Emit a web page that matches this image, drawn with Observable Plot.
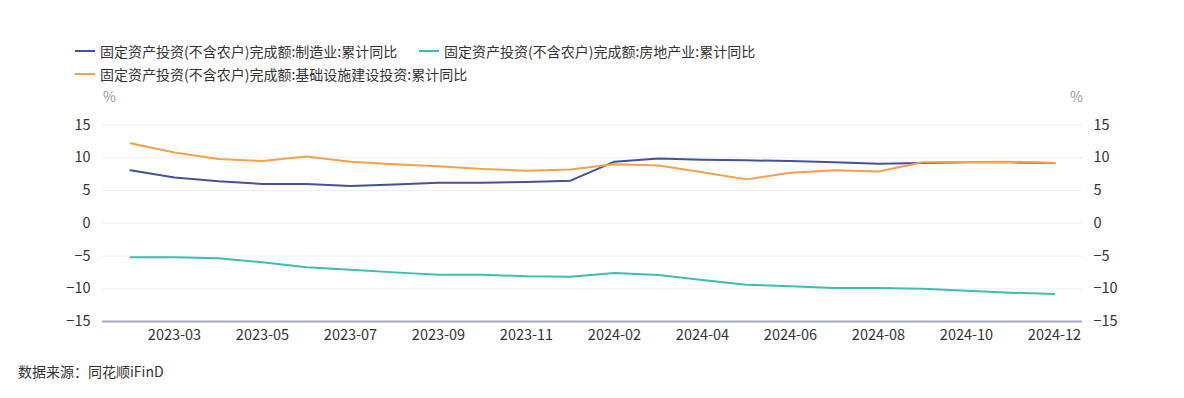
<!DOCTYPE html>
<html>
<head>
<meta charset="utf-8">
<script src="https://cdn.jsdelivr.net/npm/d3@7"></script>
<script src="https://cdn.jsdelivr.net/npm/@observablehq/plot@0.6"></script>
<style>
  html, body { margin: 0; padding: 0; background: #fff; }
  body { width: 1184px; height: 398px; overflow: hidden; font-family: "Noto Sans CJK SC", "Noto Sans", sans-serif; color: #333; }
  #legend { position: relative; height: 86px; font-size: 14px; }
  .item { position: absolute; display: flex; align-items: center; height: 20px; white-space: nowrap; }
  .sw { width: 20px; height: 2.5px; margin-right: 5px; }
  #caption { font-size: 14px; line-height: 20px; padding-left: 18px; margin-top: 10px; color: #333; }
  svg { display: block; }
</style>
</head>
<body>
<div id="legend"></div>
<div id="chart"></div>
<div id="caption">数据来源：同花顺iFinD</div>
<script>
const months = ["2023-02","2023-03","2023-04","2023-05","2023-06","2023-07","2023-08","2023-09","2023-10","2023-11","2023-12",
                "2024-02","2024-03","2024-04","2024-05","2024-06","2024-07","2024-08","2024-09","2024-10","2024-11","2024-12"];
const seriesNames = ["固定资产投资(不含农户)完成额:制造业:累计同比",
                     "固定资产投资(不含农户)完成额:房地产业:累计同比",
                     "固定资产投资(不含农户)完成额:基础设施建设投资:累计同比"];
const manufacturing = [8.1,7.0,6.4,6.0,6.0,5.7,5.9,6.2,6.2,6.3,6.5,9.4,9.9,9.7,9.6,9.5,9.3,9.1,9.2,9.3,9.3,9.2];
const realEstate = [-5.2,-5.2,-5.35,-5.95,-6.7,-7.1,-7.5,-7.85,-7.85,-8.1,-8.15,-7.6,-7.9,-8.65,-9.4,-9.6,-9.9,-9.9,-10.0,-10.3,-10.6,-10.8];
const infrastructure = [12.2,10.8,9.8,9.5,10.2,9.4,9.0,8.7,8.3,8.0,8.2,9.0,8.8,7.8,6.7,7.7,8.1,7.9,9.3,9.35,9.4,9.2];
const yTicks = [-15,-10,-5,0,5,10,15];
const xTicks = ["2023-03","2023-05","2023-07","2023-09","2023-11","2024-02","2024-04","2024-06","2024-08","2024-10","2024-12"];
const colors = ["#47509a", "#3cbfae", "#f4a04c"];

const seriesValues = [manufacturing, realEstate, infrastructure];
const data = [];
seriesValues.forEach((vals, s) => vals.forEach((v, i) => data.push({month: months[i], value: v, series: seriesNames[s]})));

// Legend
const legendPos = [{left: 75, top: 41}, {left: 419, top: 41}, {left: 75, top: 64}];
const legend = document.getElementById("legend");
seriesNames.forEach((name, i) => {
  const it = document.createElement("div");
  it.className = "item";
  it.style.left = legendPos[i].left + "px";
  it.style.top = legendPos[i].top + "px";
  it.innerHTML = `<span class="sw" style="background:${colors[i]}"></span><span>${name}</span>`;
  legend.appendChild(it);
});

const chart = Plot.plot({
  width: 1184,
  height: 265,
  marginLeft: 102,
  marginRight: 102,
  marginTop: 38.5,
  marginBottom: 30,
  style: {fontFamily: "'Noto Sans CJK SC', 'Noto Sans', sans-serif", fontSize: "14.5px", color: "#333", background: "#fff"},
  x: {type: "point", domain: months, padding: 0.5},
  y: {domain: [-15, 15]},
  color: {domain: seriesNames, range: colors},
  marks: [
    Plot.gridY(yTicks.filter(d => d > -15), {stroke: "#eceef4", strokeOpacity: 1, strokeWidth: 1}),
    Plot.ruleY([-15], {stroke: "#a4abc0", strokeWidth: 2}),
    Plot.axisY(yTicks, {anchor: "left", tickSize: 0, tickPadding: 12, label: null, fill: "#333"}),
    Plot.axisY(yTicks, {anchor: "right", tickSize: 0, tickPadding: 11, label: null, fill: "#333"}),
    Plot.axisX(xTicks, {anchor: "bottom", tickSize: 0, tickPadding: 8, label: null, fill: "#333"}),
    Plot.text(["%"], {frameAnchor: "top-left", text: d => d, dx: 7, dy: -27, textAnchor: "middle", lineAnchor: "middle", fill: "#999", fontSize: 14}),
    Plot.text(["%"], {frameAnchor: "top-right", text: d => d, dx: -6, dy: -27, textAnchor: "middle", lineAnchor: "middle", fill: "#999", fontSize: 14}),
    Plot.line(data, {x: "month", y: "value", z: "series", stroke: "series", strokeWidth: 2, curve: "linear"})
  ]
});
document.getElementById("chart").appendChild(chart);
</script>
</body>
</html>
